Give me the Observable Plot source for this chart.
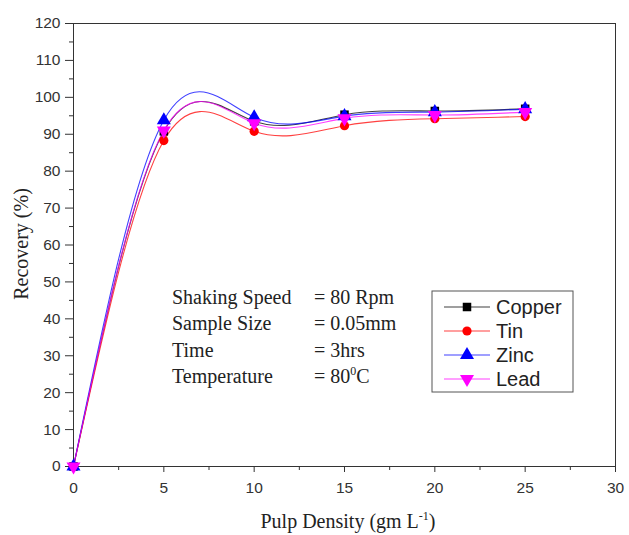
<!DOCTYPE html>
<html>
<head>
<meta charset="utf-8">
<script src="https://cdn.jsdelivr.net/npm/d3@7"></script>
<script src="https://cdn.jsdelivr.net/npm/@observablehq/plot@0.6"></script>
<style>
  html, body { margin: 0; padding: 0; background: #fff; }
  #chart svg { display: block; }
</style>
</head>
<body>
<div id="chart"></div>
<script>
// Data
const pulpDensity = [0, 5, 10, 15, 20, 25];
const copper = [0, 90.8, 93.5, 95.3, 96.3, 96.9];
const tin    = [0, 88.3, 90.8, 92.3, 94.2, 94.8];
const zinc   = [0, 93.8, 94.6, 94.9, 96.0, 96.8];
const lead   = [0, 91.0, 93.0, 94.3, 95.2, 96.0];
const seriesNames = ["Copper", "Tin", "Zinc", "Lead"];
const seriesColors = ["#000000", "#ff0000", "#0000ff", "#ff00ff"];
const seriesSymbols = ["square", "circle", "triangle", "triangle"];
const seriesRotate = [0, 0, 0, 180];
const xTicks = [0, 5, 10, 15, 20, 25, 30];
const yTicks = [0, 10, 20, 30, 40, 50, 60, 70, 80, 90, 100, 110, 120];
const conditionLabels = ["Shaking Speed", "Sample Size", "Time", "Temperature"];
const conditionValues = ["= 80 Rpm", "= 0.05mm", "= 3hrs", "= 80"];

const seriesValues = [copper, tin, zinc, lead];
const rows = [];
seriesNames.forEach((name, i) => {
  pulpDensity.forEach((x, j) => rows.push({series: name, x, y: seriesValues[i][j]}));
});

const xMinor = d3.range(2.5, 30, 5);
const yMinor = d3.range(5, 120, 10);
const symR = [4.8, 4.6, 5.2, 5.2];

const lineMarks = seriesNames.map((name, i) =>
  Plot.line(rows.filter(d => d.series === name), {
    x: "x", y: "y", curve: "natural", stroke: seriesColors[i], strokeWidth: 1.1, strokeOpacity: 0.75
  })
);
const dotMarks = seriesNames.map((name, i) =>
  Plot.dot(rows.filter(d => d.series === name), {
    x: "x", y: "y", symbol: seriesSymbols[i], fill: seriesColors[i], stroke: "none",
    r: symR[i], rotate: seriesRotate[i]
  })
);

const plot = Plot.plot({
  width: 629,
  height: 535,
  marginLeft: 73,
  marginRight: 14,
  marginTop: 23,
  marginBottom: 69,
  style: {fontFamily: "'Liberation Sans', Arial, sans-serif", fontSize: "15.5px", color: "#333", background: "#fff"},
  x: {domain: [0, 30], label: null},
  y: {domain: [0, 120], label: null},
  marks: [
    Plot.frame({stroke: "#333", strokeWidth: 1}),
    Plot.axisX({ticks: xTicks, tickSize: 6, tickPadding: 9, label: null, stroke: "#333", fontSize: 15.5}),
    Plot.axisX({ticks: xMinor, tickSize: 4, tickFormat: () => "", label: null, stroke: "#333"}),
    Plot.axisY({ticks: yTicks, tickSize: 8, tickPadding: 5, label: null, stroke: "#333", fontSize: 15.5}),
    Plot.axisY({ticks: yMinor, tickSize: 4, tickFormat: () => "", label: null, stroke: "#333"}),
    ...lineMarks,
    ...dotMarks
  ]
});

document.getElementById("chart").appendChild(plot);

const svg = d3.select(plot);
const serif = "'Liberation Serif', 'Times New Roman', serif";

// Axis titles
svg.append("text")
  .attr("transform", "translate(28,244) rotate(-90)")
  .attr("text-anchor", "middle")
  .attr("font-family", serif).attr("font-size", 20).attr("fill", "#222")
  .text("Recovery (%)");

const xt = svg.append("text")
  .attr("x", 348).attr("y", 528)
  .attr("text-anchor", "middle")
  .attr("font-family", serif).attr("font-size", 20).attr("fill", "#222");
xt.append("tspan").text("Pulp Density (gm L");
xt.append("tspan").attr("dy", -8).attr("font-size", 12).text("-1");
xt.append("tspan").attr("dy", 8).text(")");

// Condition annotation
conditionLabels.forEach((lab, i) => {
  const yb = 304 + i * 26.3;
  svg.append("text").attr("x", 172).attr("y", yb).attr("text-anchor", "start")
    .attr("font-family", serif).attr("font-size", 20).attr("fill", "#222").text(lab);
  const t = svg.append("text").attr("x", 314).attr("y", yb).attr("text-anchor", "start")
    .attr("font-family", serif).attr("font-size", 20).attr("fill", "#222");
  t.append("tspan").text(conditionValues[i]);
  if (i === 3) {
    t.append("tspan").attr("dy", -8).attr("font-size", 12).text("0");
    t.append("tspan").attr("dy", 8).text("C");
  }
});

// Legend
const lg = svg.append("g");
lg.append("rect").attr("x", 432).attr("y", 291).attr("width", 141).attr("height", 101)
  .attr("fill", "#fff").attr("stroke", "#555").attr("stroke-width", 1);
seriesNames.forEach((name, i) => {
  const cy = 307 + i * 24;
  lg.append("line").attr("x1", 444).attr("x2", 490).attr("y1", cy).attr("y2", cy)
    .attr("stroke", seriesColors[i]).attr("stroke-width", 1.1).attr("stroke-opacity", 0.75);
  const sym = seriesSymbols[i] === "square" ? d3.symbolSquare : seriesSymbols[i] === "circle" ? d3.symbolCircle : d3.symbolTriangle;
  lg.append("path").attr("d", d3.symbol(sym, Math.PI * symR[i] * symR[i])())
    .attr("transform", `translate(467,${cy}) rotate(${seriesRotate[i]})`)
    .attr("fill", seriesColors[i]);
  lg.append("text").attr("x", 496).attr("y", cy + 7).attr("text-anchor", "start")
    .attr("font-family", "'Liberation Sans', Arial, sans-serif").attr("font-size", 20).attr("fill", "#222")
    .text(name);
});
</script>
</body>
</html>
